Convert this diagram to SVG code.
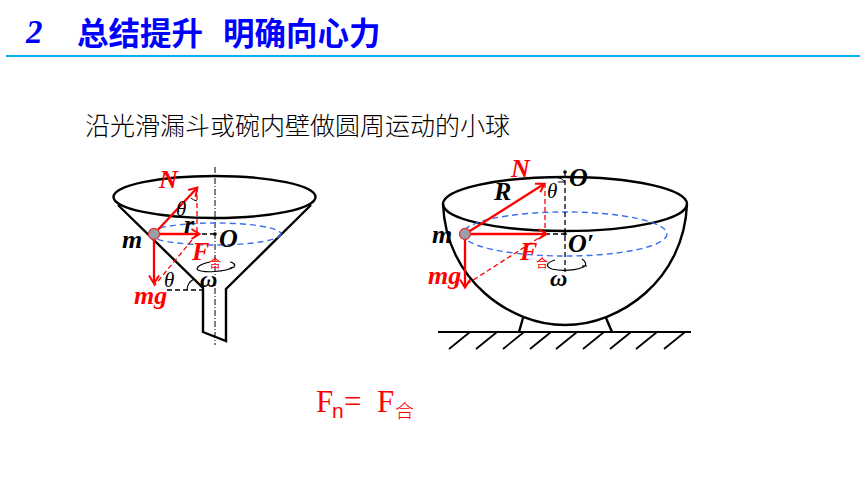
<svg xmlns="http://www.w3.org/2000/svg" width="860" height="484" viewBox="0 0 860 484">
<style>
.k{fill:none;stroke:#000;stroke-width:2.4}
.d{fill:none;stroke:#000;stroke-width:1.300;stroke-dasharray:5 3}
.b{fill:none;stroke:#3b6ff0;stroke-width:1.400;stroke-dasharray:6 4}
.r{fill:none;stroke:#f00;stroke-width:2.300;marker-end:url(#a)}
.rd{fill:none;stroke:#f00;stroke-width:1.300;stroke-dasharray:5 3}
.t{font-family:"Liberation Serif",serif;font-style:italic;font-weight:bold;font-size:26px}
.th{font-family:"Liberation Serif",serif;font-style:italic;font-size:21px}
.om{font-family:"Liberation Serif",serif;font-style:italic;font-weight:bold;font-size:24px}
.red{fill:#f00}
.he{font-family:"Noto Sans CJK SC",sans-serif;font-size:12px;fill:#f00}
.ball{fill:#9aa0a8;stroke:#d33;stroke-width:1.300}
.ttl{font-family:"Noto Sans CJK SC",sans-serif;font-weight:bold;font-size:31.500px;fill:#0000ff}
</style>
<defs><marker id="a" markerWidth="12" markerHeight="12" refX="9" refY="6" orient="auto" markerUnits="userSpaceOnUse"><path d="M1.500 1L9.500 6L1.500 11" fill="none" stroke="#f00" stroke-width="2"/></marker></defs>
<rect width="860" height="484" fill="#fff"/>
<g id="title">
<text x="26" y="42.500" font-family="Liberation Serif,serif" font-style="italic" font-weight="bold" font-size="33" fill="#0000ff">2</text>
<text class="ttl" x="77" y="45">总结提升</text>
<text class="ttl" x="223" y="45">明确向心力</text>
<rect x="6" y="55" width="854" height="2" fill="#00b0f0"/>
</g>
<text id="subtitle" x="85" y="135" font-family="Noto Sans CJK SC,sans-serif" font-size="25" font-weight="300" fill="#000">沿光滑漏斗或碗内壁做圆周运动的小球</text>
<g id="funnel">
<ellipse class="k" cx="214.500" cy="197" rx="101" ry="21"/>
<path class="k" d="M118 205L203 288V332L226 341V289L311 205"/>
<path d="M215 167V345" fill="none" stroke="#000" stroke-width="1" stroke-dasharray="6 2 1 2"/>
<ellipse class="b" cx="215" cy="234" rx="66" ry="11"/>
<path class="d" d="M167 290H203"/>
<path d="M187 290A13 13 0 0 1 194 279" fill="none" stroke="#000" stroke-width="1.200"/>
<path d="M154 234H215" fill="none" stroke="#000" stroke-width="1.300" stroke-dasharray="5 3"/>
<circle cx="215" cy="234" r="1.800"/>
<path d="M210 262C200 264 195 268 198 270C204 273 225 272 234 267C236 265 233 262 230 262M234 267L230 268" fill="none" stroke="#000" stroke-width="1.200"/>
<path class="rd" d="M197 187V234M197 234L154 286"/>
<path d="M191 198A12 12 0 0 0 197 201" fill="none" stroke="#000" stroke-width="1"/>
<path class="r" d="M154 234L197 188"/>
<path class="r" d="M154 234H199"/>
<path class="r" d="M154 234V283"/>
<circle class="ball" cx="154" cy="234" r="5.500"/>
<text class="t" x="122" y="248">m</text>
<text class="t" x="219" y="247" font-size="20">O</text>
<text class="t" x="184" y="233" font-size="21">r</text>
<text class="th" x="176" y="216">θ</text>
<text class="th" x="164" y="287">θ</text>
<text class="om" x="200" y="287">ω</text>
<text class="t red" x="159" y="188">N</text>
<text class="t red" x="192" y="260">F</text>
<text class="he" x="209" y="268">合</text>
<text class="t red" x="134" y="304">mg</text>
</g>
<g id="bowl">
<path class="k" d="M443 204C446 280 510 325 565 325C620 325 684 280 687 204"/>
<ellipse class="k" cx="565" cy="204" rx="122" ry="27"/>
<path class="k" d="M523 318L519 332M606 318L612 332"/>
<ellipse class="b" cx="565" cy="234" rx="102" ry="22"/>
<path class="d" d="M565 172V272M545 234H565"/>
<circle cx="565" cy="172" r="1.800"/>
<circle cx="565" cy="234" r="1.800"/>
<path d="M555 260C545 263 546 267 552 269C560 271 578 271 585 266C587 263 585 261 582 259M587 266L582 266" fill="none" stroke="#000" stroke-width="1.200"/>
<path class="rd" d="M545 183V234M545 234L467 284"/>
<path d="M556 177Q562 178 565 182H558" fill="none" stroke="#000" stroke-width="1"/>
<path class="r" d="M465 234L544 184"/>
<path class="r" d="M465 234H546"/>
<path class="r" d="M465 234V287"/>
<circle class="ball" cx="465" cy="234" r="5.500"/>
<text class="t" x="432" y="243">m</text>
<text class="t" x="494" y="200">R</text>
<text class="t" x="569" y="186" font-size="20">O</text>
<text class="t" x="568" y="252" font-size="20">O′</text>
<text class="th" x="547" y="198">θ</text>
<text class="om" x="550" y="286">ω</text>
<text class="t red" x="511" y="177">N</text>
<text class="t red" x="520" y="260">F</text>
<text class="he" x="536" y="268">合</text>
<text class="t red" x="428" y="284">mg</text>
</g>
<g id="ground" fill="none" stroke="#000" stroke-width="1.800">
<path d="M438 332H691"/>
<path d="M470 332L449 349M497 332L476 349M524 332L503 349M551 332L530 349M577 332L556 349M604 332L583 349M631 332L610 349M657 332L636 349M685 332L664 349"/>
</g>
<g id="formula" fill="#f00">
<text x="316" y="412" font-family="Liberation Serif,serif" font-size="31">F</text>
<text x="332" y="418" font-family="Liberation Sans,sans-serif" font-size="21">n</text>
<text x="344" y="412" font-family="Liberation Serif,serif" font-size="31">=</text>
<text x="377" y="412" font-family="Liberation Serif,serif" font-size="31">F</text>
<text x="395" y="418" font-family="Noto Sans CJK SC,sans-serif" font-weight="300" font-size="19">合</text>
</g>
</svg>
